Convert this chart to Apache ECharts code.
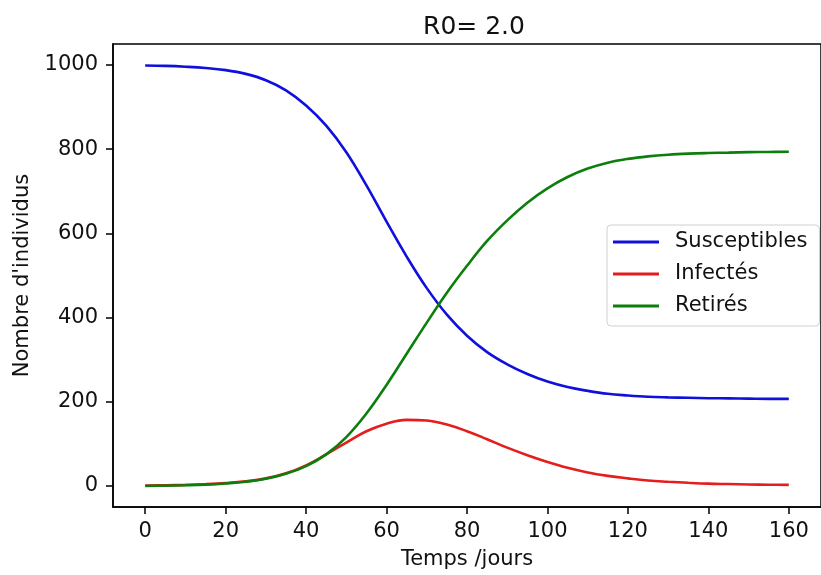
<!DOCTYPE html>
<html>
<head>
<meta charset="utf-8">
<script src="https://cdn.jsdelivr.net/npm/echarts@6/dist/echarts.min.js"></script>
<style>
  html, body { margin: 0; padding: 0; background: #fff; }
  #chart { width: 821px; height: 575px; }
</style>
</head>
<body>
<div id="chart"></div>
<script>
// Time in days
const days = [0, 5, 10, 15, 20, 25, 30, 35, 40, 45, 50, 55, 60, 65, 70, 75, 80,
              85, 90, 95, 100, 105, 110, 115, 120, 125, 130, 135, 140, 145, 150, 155, 160];
// Susceptibles (blue)
const susceptibles = [999, 998, 996, 993, 988, 979, 964, 940, 904, 856, 793, 714, 628, 545, 470, 407, 357,
                      318, 289, 266, 248, 235, 226, 219, 215, 212, 210.5, 209.5, 208.5, 208, 207.5, 207, 207];
// Infectés (red)
const infectes = [1, 1.6, 2.6, 4.2, 6.8, 11, 18, 30, 49, 75, 103, 130, 148, 157, 155.5, 146, 130,
                  111, 91, 73, 57, 43, 32, 24, 18, 13, 10, 7.5, 5.5, 4.5, 3.5, 3, 2.5];
// Retirés (green)
const retires = [0, 0.6, 1.6, 3.2, 6, 10, 17, 29, 47, 75, 116, 172, 240, 314, 388, 459, 523,
                 582, 631, 673, 707, 734, 754, 768, 777, 783, 787, 789.5, 791, 792, 793, 793.5, 794];

const seriesNames = ['Susceptibles', 'Infectés', 'Retirés'];
const xTicks = [0, 20, 40, 60, 80, 100, 120, 140, 160];
const yTicks = [0, 200, 400, 600, 800, 1000];
const titleText = 'R0= 2.0';
const xLabel = 'Temps /jours';
const yLabel = "Nombre d'individus";

const FONT = 'DejaVu Sans';
const chart = echarts.init(document.getElementById('chart'), null, { renderer: 'canvas' });

function pairs(vals) { return days.map((d, i) => [d, vals[i]]); }

function mkAxis(extra) {
  return Object.assign({
    type: 'value',
    splitLine: { show: false },
    axisLine: { show: true, onZero: false, lineStyle: { color: '#000', width: 1.5 } },
    axisTick: { show: true, inside: false, length: 7, lineStyle: { color: '#000', width: 1.5 } },
    axisLabel: { fontSize: 21, fontFamily: FONT, color: '#111', formatter: v => String(v) },
    nameLocation: 'middle',
    nameTextStyle: { fontSize: 21, fontFamily: FONT, color: '#111' }
  }, extra);
}

const xAxis = mkAxis({ min: -8, max: 168, name: xLabel, nameGap: 42 });
xAxis.axisTick = Object.assign({}, xAxis.axisTick, { customValues: xTicks });
xAxis.axisLabel = Object.assign({}, xAxis.axisLabel, { customValues: xTicks, margin: 14 });

const yAxis = mkAxis({ min: -50, max: 1050, name: yLabel, nameGap: 80 });
yAxis.axisTick = Object.assign({}, yAxis.axisTick, { customValues: yTicks });
yAxis.axisLabel = Object.assign({}, yAxis.axisLabel, { customValues: yTicks, margin: 15 });

const colors = ['#1010dd', '#e51d1d', '#0b7f0b'];
const allVals = [susceptibles, infectes, retires];

chart.setOption({
  animation: false,
  backgroundColor: '#fff',
  title: {
    text: titleText,
    left: 469,
    textAlign: 'center',
    top: 10,
    textStyle: { fontSize: 25, fontWeight: 'normal', fontFamily: FONT, color: '#111' }
  },
  grid: {
    left: 113, top: 44, width: 712, height: 465,
    show: true, borderColor: '#000', borderWidth: 1.5, backgroundColor: 'transparent'
  },
  legend: {
    orient: 'vertical',
    left: 607,
    top: 225,
    data: seriesNames,
    icon: 'rect',
    itemWidth: 46,
    itemHeight: 3,
    itemGap: 8,
    padding: [5, 12, 8, 6],
    borderColor: '#d0d0d0',
    borderWidth: 1,
    borderRadius: 4,
    backgroundColor: 'rgba(255,255,255,0.85)',
    textStyle: { fontSize: 21, fontFamily: FONT, color: '#111', lineHeight: 24, padding: [0, 0, 0, 11] }
  },
  xAxis: xAxis,
  yAxis: yAxis,
  series: seriesNames.map((n, k) => ({
    name: n,
    type: 'line',
    data: pairs(allVals[k]),
    showSymbol: false,
    symbol: 'none',
    smooth: 0.4,
    color: colors[k],
    lineStyle: { color: colors[k], width: 2.6 }
  }))
});
</script>
</body>
</html>
